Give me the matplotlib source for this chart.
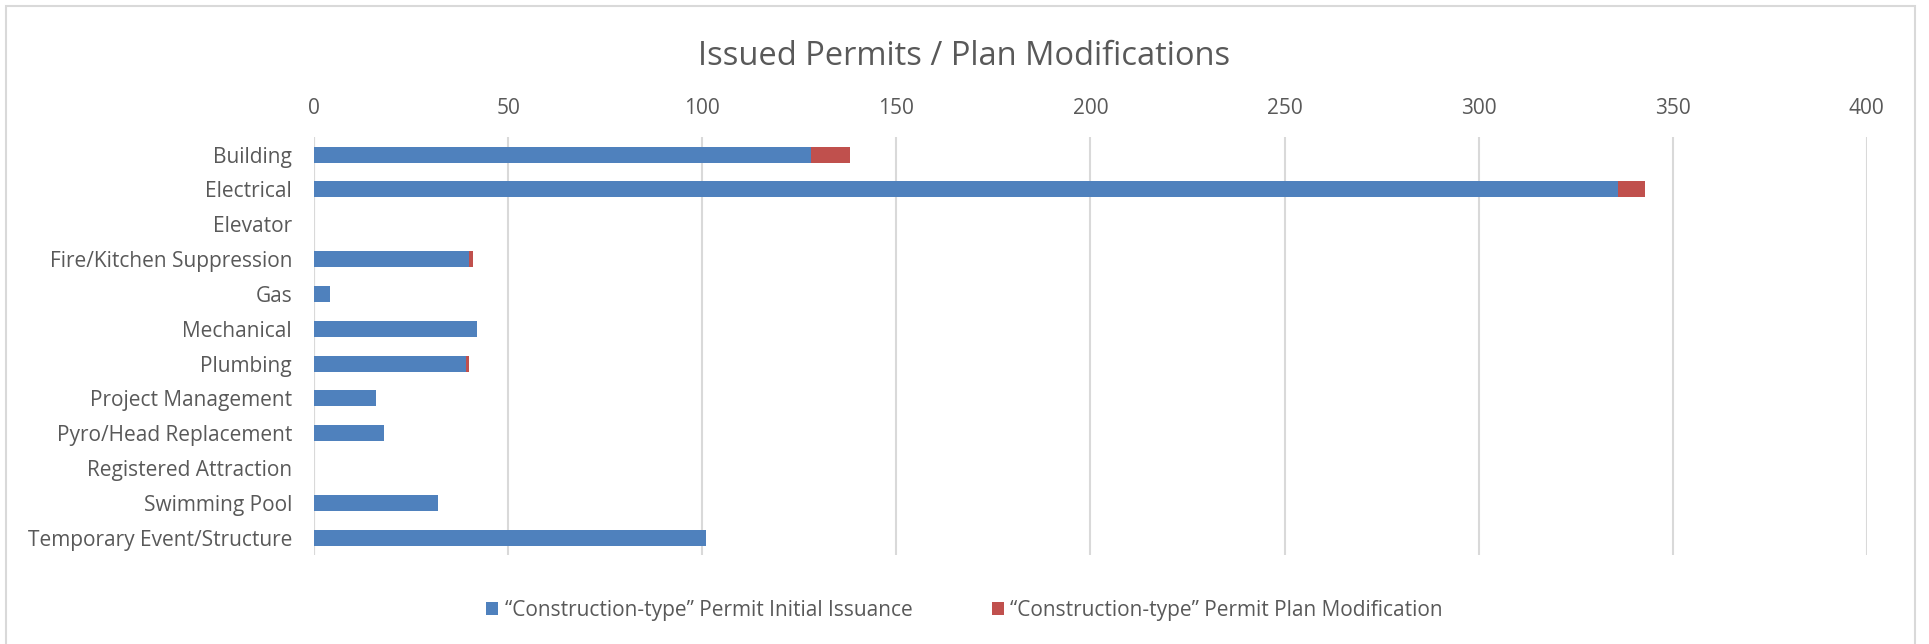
import numpy as np
import matplotlib.pyplot as plt
from matplotlib.patches import Rectangle

categories = ['Building', 'Electrical', 'Elevator', 'Fire/Kitchen Suppression', 'Gas',
              'Mechanical', 'Plumbing', 'Project Management', 'Pyro/Head Replacement',
              'Registered Attraction', 'Swimming Pool', 'Temporary Event/Structure']
initial_issuance = [128, 336, 0, 40, 4, 42, 39, 16, 18, 0, 32, 101]
plan_modification = [10, 7, 0, 1, 0, 0, 1, 0, 0, 0, 0, 0]
x_ticks = [0, 50, 100, 150, 200, 250, 300, 350, 400]

blue = '#4F81BD'
red = '#C0504D'
text_col = '#595959'
grid_col = '#D9D9D9'

plt.rcParams['font.family'] = ['Open Sans', 'DejaVu Sans']

fig = plt.figure(figsize=(19.29, 6.44), dpi=100)
ax = fig.add_axes([0.1629, 0.138, 0.8048, 0.649])

y = np.arange(len(categories))
bh = 0.46
ax.barh(y, initial_issuance, height=bh, color=blue, edgecolor='none',
        label='\u201cConstruction-type\u201d Permit Initial Issuance', zorder=3)
ax.barh(y, plan_modification, left=initial_issuance, height=bh, color=red, edgecolor='none',
        label='\u201cConstruction-type\u201d Permit Plan Modification', zorder=3)

ax.set_ylim(len(categories) - 0.5, -0.5)
ax.set_xlim(0, 400)
ax.set_yticks(y)
ax.set_yticklabels(categories)
ax.set_xticks(x_ticks)
ax.xaxis.tick_top()
ax.tick_params(axis='both', length=0, labelcolor=text_col, labelsize=15)
ax.tick_params(axis='x', pad=13)
ax.tick_params(axis='y', pad=16)
ax.grid(axis='x', color=grid_col, linewidth=1.5, zorder=0)
for s in ax.spines.values():
    s.set_visible(False)
ax.axvline(0, color=grid_col, linewidth=1.5, zorder=1)

fig.text(0.5, 0.913, 'Issued Permits / Plan Modifications', ha='center', va='center',
         fontsize=23.5, color=text_col)

leg = fig.legend(loc='center', bbox_to_anchor=(0.5, 0.052), ncol=2, frameon=False,
                 fontsize=15, handlelength=0.6, handleheight=0.6, handletextpad=0.3,
                 columnspacing=3.8)
for t in leg.get_texts():
    t.set_color(text_col)

# outer chart border
fig.patches.append(Rectangle((0.003, -0.01), 0.99, 1.0, transform=fig.transFigure,
                             fill=False, edgecolor=grid_col, linewidth=1.5))

fig.savefig('out.png', dpi=100)
